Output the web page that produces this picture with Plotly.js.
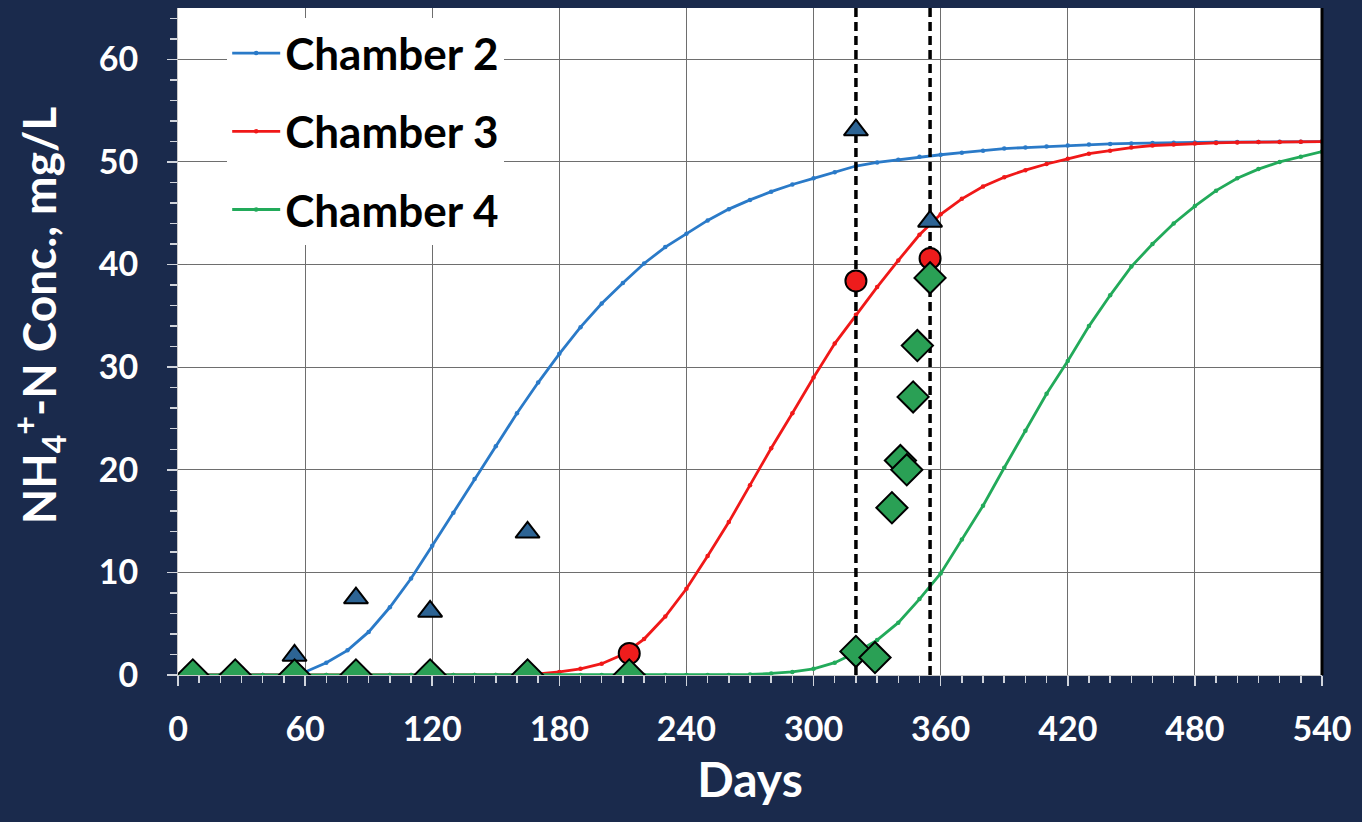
<!DOCTYPE html>
<html>
<head>
<meta charset="utf-8">
<script src="https://cdn.plot.ly/plotly-3.0.1.min.js"></script>
<style>
html,body{margin:0;padding:0;background:#1a2a4c;}
#chart{width:1362px;height:822px;}
</style>
</head>
<body>
<div id="chart"></div>
<script>
// Model curves (read every 10 days)
const curveDays = [0,10,20,30,40,50,60,70,80,90,100,110,120,130,140,150,160,170,180,190,200,210,220,230,240,250,260,270,280,290,300,310,320,330,340,350,360,370,380,390,400,410,420,430,440,450,460,470,480,490,500,510,520,530,540];
const chamber2Curve = [0,0,0,0,0,0,0.3,1.2,2.4,4.2,6.6,9.4,12.6,15.8,19.1,22.3,25.5,28.5,31.3,33.9,36.2,38.2,40.1,41.7,43.0,44.3,45.4,46.3,47.1,47.8,48.4,49.0,49.6,49.95,50.2,50.5,50.7,50.9,51.1,51.3,51.4,51.5,51.6,51.7,51.75,51.8,51.85,51.88,51.9,51.92,51.94,51.95,51.96,51.97,51.98];
const chamber3Curve = [0,0,0,0,0,0,0,0,0,0,0,0,0,0,0,0,0,0.1,0.3,0.6,1.1,2.0,3.5,5.7,8.4,11.6,14.9,18.5,22.1,25.5,29.0,32.3,35.1,37.8,40.4,42.9,44.9,46.4,47.6,48.5,49.2,49.8,50.3,50.8,51.1,51.4,51.6,51.7,51.8,51.85,51.9,51.93,51.95,51.97,51.98];
const chamber4Curve = [0,0,0,0,0,0,0,0,0,0,0,0,0,0,0,0,0,0,0,0,0,0,0,0,0,0,0,0.05,0.15,0.3,0.6,1.2,2.2,3.4,5.1,7.4,9.9,13.2,16.5,20.2,23.8,27.4,30.6,34.0,37.0,39.8,42.0,44.0,45.7,47.2,48.4,49.3,50.0,50.5,51.0];

// Measured data
const chamber2Days = [7,27,55,84,119,165,320,355];
const chamber2Obs  = [0,0,1.9,7.5,6.2,13.9,53.1,44.2];
const chamber3Days = [7,27,55,84,119,165,213,320,355];
const chamber3Obs  = [0,0,0,0,0,0,2.1,38.4,40.6];
const chamber4Days = [7,27,55,84,119,165,213,320,329,337,341,344,347,349,355];
const chamber4Obs  = [0,0,0,0,0,0,0,2.3,1.7,16.3,20.9,20.0,27.1,32.1,38.7];

// Vertical reference lines (days)
const referenceDays = [320,355];
const seriesNames = ['Chamber 2','Chamber 3','Chamber 4'];

const yMax = 65;
const blue = '#2a7ac8', red = '#f01818', green = '#22aa5a';

const dashX = [], dashY = [];
referenceDays.forEach(d => { dashX.push(d, d, null); dashY.push(0, yMax, null); });

function curve(y, name, color, grp){
  return {x: curveDays, y: y, name: name, type:'scatter', mode:'lines+markers',
    line:{color:color, width:2.8}, marker:{color:color, size:4.5},
    legendgroup: grp, hoverinfo:'skip'};
}
const traces = [
  curve(chamber2Curve, seriesNames[0], blue, 'g2'),
  curve(chamber3Curve, seriesNames[1], red, 'g3'),
  curve(chamber4Curve, seriesNames[2], green, 'g4'),
  {x: dashX, y: dashY, type:'scatter', mode:'lines', showlegend:false,
   line:{color:'#000', width:3.5, dash:'9px,5px'}},
  {x: chamber2Days, y: chamber2Obs, type:'scatter', mode:'markers', showlegend:false,
   marker:{symbol:'triangle-up', size:21, color:'#2d6494', line:{color:'#000', width:2}}},
  {x: chamber3Days, y: chamber3Obs, type:'scatter', mode:'markers', showlegend:false,
   marker:{symbol:'circle', size:21, color:'#ee1c1c', line:{color:'#000', width:2}}},
  {x: chamber4Days, y: chamber4Obs, type:'scatter', mode:'markers', showlegend:false,
   marker:{symbol:'diamond', size:24, color:'#2aa055', line:{color:'#000', width:2}}}
];

const font = 'Lato, "Open Sans", sans-serif';
const layout = {
  width:1362, height:822,
  paper_bgcolor:'#1a2a4c', plot_bgcolor:'#ffffff',
  margin:{l:178, r:40, t:8, b:147},
  font:{family:font, color:'#ffffff'},
  showlegend:true,
  legend:{x:0.043, y:0.985, xanchor:'left', yanchor:'top', bgcolor:'#ffffff',
    font:{family:font, size:44, color:'#000', weight:'bold'}, tracegroupgap:18,
    itemwidth:48},
  xaxis:{range:[0,540], dtick:60, tick0:0, showgrid:true, gridcolor:'#6e6e6e', gridwidth:1,
    ticks:'outside', ticklen:10, tickcolor:'#d0d4dc', tickwidth:1.5,
    ticklabelstandoff:14,
    minor:{dtick:10, ticks:'outside', ticklen:7, tickcolor:'#d0d4dc', showgrid:false},
    showline:true, linecolor:'#c8c8c8', linewidth:1, zeroline:false,
    tickfont:{family:font, size:34, color:'#ffffff', weight:'bold'},
    title:{text:'Days', font:{family:font, size:48, color:'#ffffff', weight:'bold'}, standoff:16}},
  yaxis:{range:[0,yMax], dtick:10, tick0:0, showgrid:true, gridcolor:'#6e6e6e', gridwidth:1,
    ticks:'outside', ticklen:10, tickcolor:'#d0d4dc', tickwidth:1.5,
    ticklabelstandoff:22,
    minor:{dtick:2, ticks:'outside', ticklen:7, tickcolor:'#d0d4dc', showgrid:false},
    showline:true, linecolor:'#c8c8c8', linewidth:1, zeroline:false,
    tickfont:{family:font, size:34, color:'#ffffff', weight:'bold'}},
  shapes:[{type:'line', xref:'paper', yref:'paper', x0:1, x1:1, y0:0, y1:1,
    line:{color:'#000', width:3}}],
  annotations:[{xref:'paper', yref:'paper', x:-0.122, y:0.54, textangle:-90,
    showarrow:false, xanchor:'center', yanchor:'middle',
    text:'NH<sub>4</sub><sup>+</sup>-N Conc., mg/L',
    font:{family:font, size:46, color:'#ffffff', weight:'bold'}}]
};
Plotly.newPlot('chart', traces, layout, {displayModeBar:false, staticPlot:true});
</script>
</body>
</html>
